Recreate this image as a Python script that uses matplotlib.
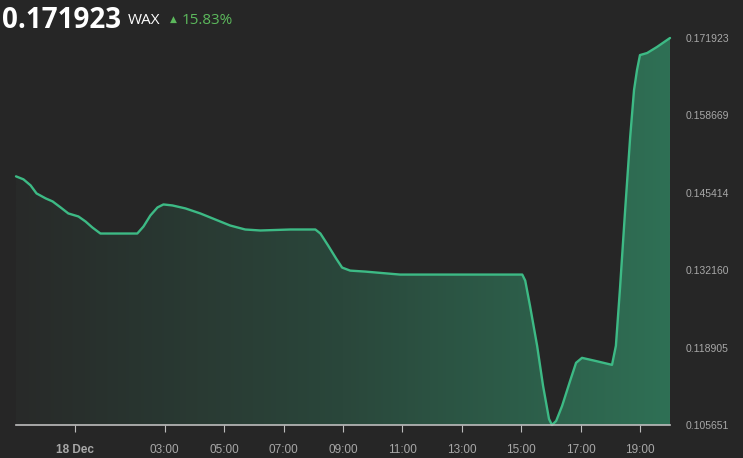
import numpy as np
import matplotlib
matplotlib.use("Agg")
from matplotlib import pyplot as plt
from matplotlib.colors import LinearSegmentedColormap

# hours relative to 18 Dec 00:00, prices
hours = [-2.0, -1.75, -1.51, -1.31, -1.0, -0.77, -0.5, -0.24, 0.1, 0.34, 0.57, 0.84,
         2.08, 2.29, 2.52, 2.76, 2.96, 3.26, 3.7, 4.2, 4.7, 5.2, 5.71, 6.22, 7.23, 8.07,
         8.24, 8.5, 8.77, 8.97, 9.24, 9.75, 10.92, 15.03, 15.13, 15.29, 15.53, 15.73,
         15.93, 16.03, 16.17, 16.37, 16.64, 16.84, 17.04, 17.48, 18.05, 18.18, 18.32,
         18.49, 18.66, 18.79, 18.89, 18.99, 19.23, 19.56, 20.0]
price = [0.14823, 0.14772, 0.14669, 0.14531, 0.14445, 0.14394, 0.14291, 0.14188,
         0.14136, 0.14050, 0.13947, 0.13844, 0.13844, 0.13965, 0.14153, 0.14291,
         0.14342, 0.14325, 0.14274, 0.14188, 0.14085, 0.13982, 0.13913, 0.13896,
         0.13913, 0.13913, 0.13844, 0.13638, 0.13415, 0.13261, 0.13209, 0.13192,
         0.13141, 0.13141, 0.13037, 0.12608, 0.11922, 0.11235, 0.10668, 0.105651,
         0.10634, 0.10891, 0.11321, 0.11630, 0.11715, 0.11664, 0.11595, 0.11922,
         0.12917, 0.14239, 0.15493, 0.16300, 0.16643, 0.16900, 0.16935, 0.17038,
         0.171923]
ytick_vals = [0.105651, 0.118905, 0.132160, 0.145414, 0.158669, 0.171923]
xtick_pos = [0, 3, 5, 7, 9, 11, 13, 15, 17, 19]
xtick_lab = ["18 Dec", "03:00", "05:00", "07:00", "09:00", "11:00", "13:00",
             "15:00", "17:00", "19:00"]

bg = "#262626"
line_c = "#3dba85"
grey = "#a8a8a8"

fig = plt.figure(figsize=(7.43, 4.58), dpi=100, facecolor=bg)
ax = fig.add_axes([16/743, 1-425/458, (670-16)/743, (425-38)/458])
ax.set_facecolor(bg)

ymin, ymax = ytick_vals[0], ytick_vals[-1]
ax.set_xlim(-2, 20)
ax.set_ylim(ymin, ymax)

poly = ax.fill_between(hours, price, ymin, color="none", lw=0)
cmap = LinearSegmentedColormap.from_list("g", ["#282a29", "#2a473b", "#2f7055"])
grad = np.linspace(0, 1, 256).reshape(1, -1)
im = ax.imshow(grad, cmap=cmap, aspect="auto", extent=[-2, 20, ymin, ymax],
               origin="lower", zorder=1)
im.set_clip_path(poly.get_paths()[0], transform=ax.transData)

ax.plot(hours, price, color=line_c, lw=1.7, zorder=3, clip_on=False,
        solid_joinstyle="round", solid_capstyle="round")

for s in ["top", "left", "right"]:
    ax.spines[s].set_visible(False)
ax.spines["bottom"].set_color("#bdbdbd")
ax.spines["bottom"].set_linewidth(1.2)
ax.spines["bottom"].set_zorder(4)

ax.set_xticks(xtick_pos)
ax.set_xticklabels(xtick_lab, fontsize=8.5, color=grey, family="Liberation Sans")
ax.get_xticklabels()[0].set_fontweight("bold")
ax.tick_params(axis="x", length=5, color="#bdbdbd", pad=9)

ax.yaxis.tick_right()
ax.set_yticks(ytick_vals)
ax.set_yticklabels([f"{v:.6f}" for v in ytick_vals], fontsize=7.5, color=grey,
                   family="Liberation Sans")
ax.tick_params(axis="y", length=0, pad=11)

fig.text(2/743, 1-20/458, "0.171923", fontsize=20, fontweight="bold", color="white",
         family="Open Sans", va="center", ha="left")
fig.text(128/743, 1-20/458, "WAX", fontsize=11, color="white", family="Open Sans",
         va="center", ha="left")
fig.text(170/743, 1-19/458, "\u25b2", fontsize=6.5, color="#5cb85c", family="DejaVu Sans",
         va="center", ha="left")
fig.text(182/743, 1-20/458, "15.83%", fontsize=11, color="#5cb85c", family="Open Sans",
         va="center", ha="left")

fig.savefig("out.png", dpi=100, facecolor=bg)
